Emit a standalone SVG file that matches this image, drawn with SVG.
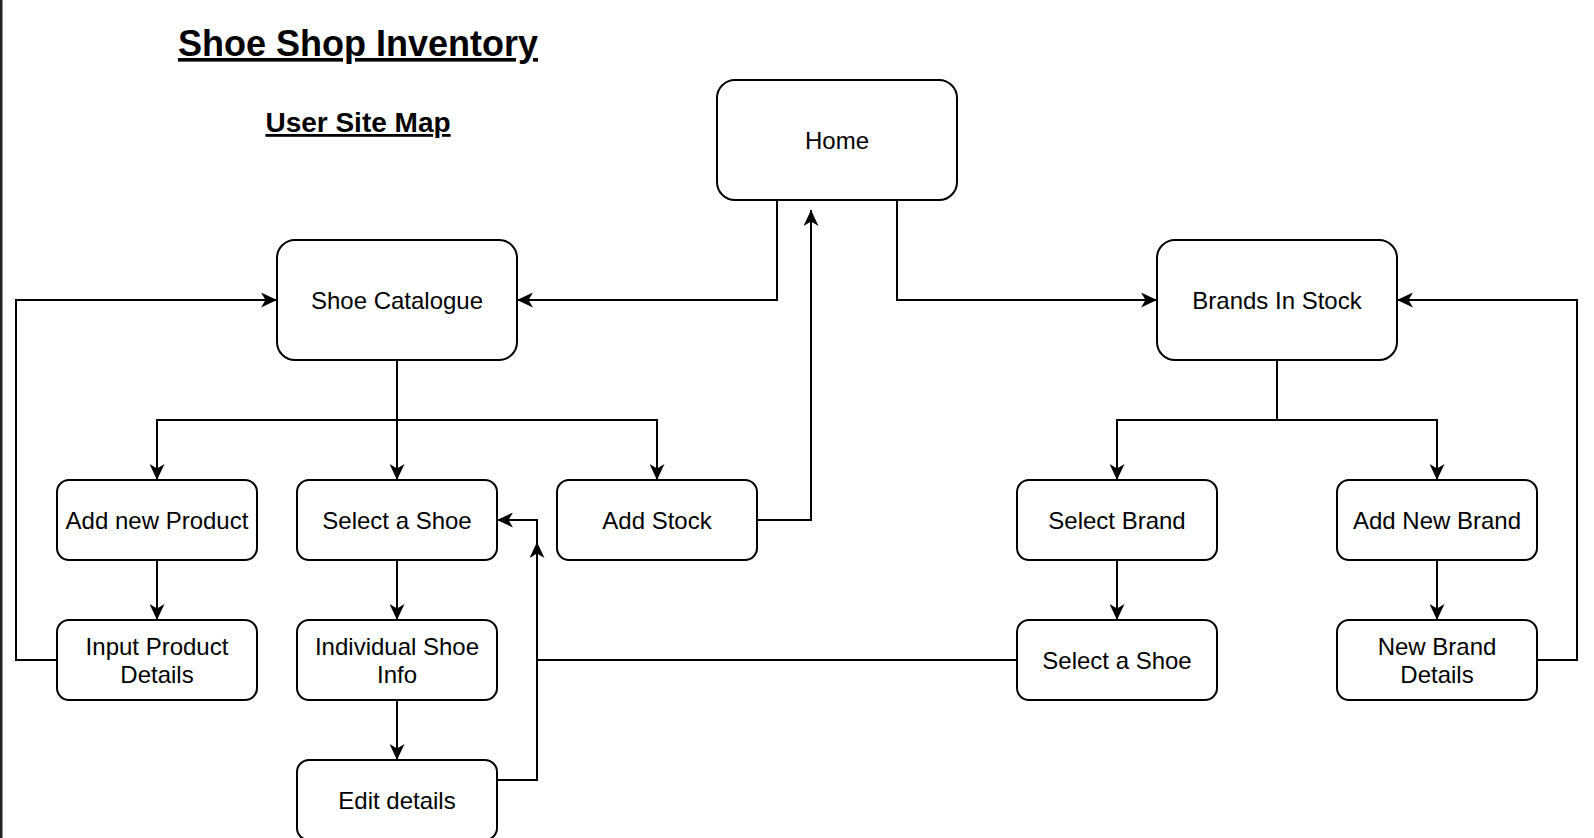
<svg xmlns="http://www.w3.org/2000/svg" width="1594" height="838" viewBox="0 0 1594 838">
<style>
.box{fill:#ffffff;stroke:#000000;stroke-width:2}
.lbl{font-family:"Liberation Sans",Arial,Helvetica,sans-serif;font-size:24px;fill:#000000;text-anchor:middle}
.ttl{font-family:"Liberation Sans",Arial,Helvetica,sans-serif;font-weight:bold;fill:#000000;text-anchor:middle;text-decoration:underline}
.edge{fill:none;stroke:#000000;stroke-width:2}
.arr{marker-end:url(#ah)}
</style>
<defs>
<marker id="ah" viewBox="0 0 16 15" refX="16" refY="7.5" markerWidth="16" markerHeight="15" markerUnits="userSpaceOnUse" orient="auto">
<path d="M0,0 L16,7.5 L0,15 L4.5,7.5 Z" fill="#000000"/>
</marker>
</defs>
<rect x="0" y="0" width="1594" height="838" fill="#ffffff"/>
<rect x="0" y="0" width="2.5" height="838" fill="#222222"/>
<g id="titles">
<text class="ttl" x="358" y="56" font-size="36">Shoe Shop Inventory</text>
<text class="ttl" x="358" y="132" font-size="28">User Site Map</text>
</g>
<g id="connectors">
<path class="edge arr" d="M777,200 V300 H517"/>
<path class="edge arr" d="M897,200 V300 H1157"/>
<path class="edge arr" d="M757,520 H811 V210"/>
<path class="edge arr" d="M397,360 V420 H157 V480"/>
<path class="edge arr" d="M397,360 V480"/>
<path class="edge arr" d="M397,420 H657 V480"/>
<path class="edge arr" d="M157,560 V620"/>
<path class="edge arr" d="M397,560 V620"/>
<path class="edge arr" d="M397,700 V760"/>
<path class="edge arr" d="M57,660 H16 V300 H277"/>
<path class="edge arr" d="M497,780 H537 V542"/>
<path class="edge arr" d="M1017,660 H537 V520 H497"/>
<path class="edge arr" d="M1277,360 V420 H1117 V480"/>
<path class="edge arr" d="M1277,420 H1437 V480"/>
<path class="edge arr" d="M1117,560 V620"/>
<path class="edge arr" d="M1437,560 V620"/>
<path class="edge arr" d="M1537,660 H1577 V300 H1397"/>
</g>
<g id="home"><rect class="box" x="717" y="80" width="240" height="120" rx="18"/><text class="lbl" x="837" y="148.5">Home</text></g>
<g id="shoe-catalogue"><rect class="box" x="277" y="240" width="240" height="120" rx="18"/><text class="lbl" x="397" y="308.5">Shoe Catalogue</text></g>
<g id="brands-in-stock"><rect class="box" x="1157" y="240" width="240" height="120" rx="18"/><text class="lbl" x="1277" y="308.5">Brands In Stock</text></g>
<g id="add-new-product"><rect class="box" x="57" y="480" width="200" height="80" rx="12"/><text class="lbl" x="157" y="528.5">Add new Product</text></g>
<g id="select-a-shoe"><rect class="box" x="297" y="480" width="200" height="80" rx="12"/><text class="lbl" x="397" y="528.5">Select a Shoe</text></g>
<g id="add-stock"><rect class="box" x="557" y="480" width="200" height="80" rx="12"/><text class="lbl" x="657" y="528.5">Add Stock</text></g>
<g id="select-brand"><rect class="box" x="1017" y="480" width="200" height="80" rx="12"/><text class="lbl" x="1117" y="528.5">Select Brand</text></g>
<g id="add-new-brand"><rect class="box" x="1337" y="480" width="200" height="80" rx="12"/><text class="lbl" x="1437" y="528.5">Add New Brand</text></g>
<g id="input-product-details"><rect class="box" x="57" y="620" width="200" height="80" rx="12"/><text class="lbl" x="157" y="654.5">Input Product</text><text class="lbl" x="157" y="682.5">Details</text></g>
<g id="individual-shoe-info"><rect class="box" x="297" y="620" width="200" height="80" rx="12"/><text class="lbl" x="397" y="654.5">Individual Shoe</text><text class="lbl" x="397" y="682.5">Info</text></g>
<g id="select-a-shoe-2"><rect class="box" x="1017" y="620" width="200" height="80" rx="12"/><text class="lbl" x="1117" y="668.5">Select a Shoe</text></g>
<g id="new-brand-details"><rect class="box" x="1337" y="620" width="200" height="80" rx="12"/><text class="lbl" x="1437" y="654.5">New Brand</text><text class="lbl" x="1437" y="682.5">Details</text></g>
<g id="edit-details"><rect class="box" x="297" y="760" width="200" height="80" rx="12"/><text class="lbl" x="397" y="808.5">Edit details</text></g>
</svg>
